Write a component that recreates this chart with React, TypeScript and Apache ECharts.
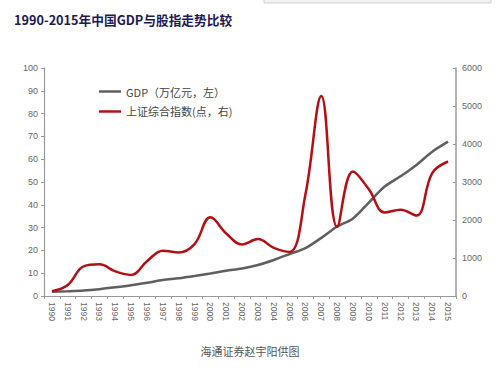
import React, { useEffect, useRef } from "react";
import * as echarts from "echarts";

const years = ["1990","1991","1992","1993","1994","1995","1996","1997","1998","1999","2000","2001","2002","2003","2004","2005","2006","2007","2008","2009","2010","2011","2012","2013","2014","2015"];
const gdp = [1.9, 2.1, 2.4, 3.0, 3.8, 4.7, 5.8, 7.0, 7.8, 8.8, 9.9, 11.1, 12.1, 13.6, 15.8, 18.4, 21.0, 25.5, 30.5, 34.0, 41.0, 48.0, 52.5, 57.5, 63.3, 67.7];
const shIndex = [128, 292, 780, 833, 648, 555, 917, 1194, 1147, 1367, 2073, 1646, 1357, 1497, 1267, 1161, 2675, 5262, 1821, 3277, 2808, 2199, 2269, 2116, 3235, 3539];
const leftTicks = { min: 0, max: 100, interval: 10 };
const rightTicks = { min: 0, max: 6000, interval: 1000 };
const title = "1990-2015年中国GDP与股指走势比较";
const seriesNames = ["GDP（万亿元，左）", "上证综合指数(点，右)"];
const caption = "海通证券赵宇阳供图";

export default function App() {
  const ref = useRef<HTMLDivElement>(null);
  useEffect(() => {
    if (!ref.current) return;
    const chart = echarts.init(ref.current, null, { renderer: "svg" });
    const font = "'Liberation Sans', Arial, 'Noto Sans CJK SC', sans-serif";
    const axisLabel = { color: "#666", fontSize: 9, fontFamily: font };
    chart.setOption({
      animation: false,
      backgroundColor: "#fff",
      title: {
        text: title,
        left: 9,
        top: 8,
        textStyle: { color: "#1f1a55", fontSize: 12.7, fontWeight: "bold", fontFamily: "'Noto Sans CJK SC', sans-serif" },
      },
      graphic: [
        { type: "rect", shape: { x: 264, y: -2, width: 227, height: 5 }, style: { fill: "#f2f2f2", stroke: "#d0d0d0", lineWidth: 1 } },
        {
          type: "text",
          left: "center",
          top: 345,
          style: { text: caption, fill: "#555", fontSize: 11, fontFamily: "'Noto Sans CJK SC', sans-serif" },
        },
      ],
      legend: {
        orient: "vertical",
        left: 94,
        top: 81,
        itemGap: 9,
        itemWidth: 22,
        itemHeight: 12,
        textStyle: { color: "#444", fontSize: 11, fontFamily: "'Noto Sans CJK SC', sans-serif" },
        data: [
          { name: seriesNames[0], icon: "path://M0,5 L22,5 L22,7.5 L0,7.5 Z" },
          { name: seriesNames[1], icon: "path://M0,5 L22,5 L22,7.5 L0,7.5 Z" },
        ],
      },
      grid: { left: 44, right: 44, top: 68, bottom: 76, containLabel: false },
      xAxis: {
        type: "category",
        data: years,
        boundaryGap: true,
        axisLine: { lineStyle: { color: "#999", width: 1 } },
        axisTick: { show: true, length: 3, lineStyle: { color: "#999" } },
        axisLabel: { ...axisLabel, fontSize: 8.5, rotate: -90, margin: 6, interval: 0, hideOverlap: false },
      },
      yAxis: [
        {
          type: "value",
          ...leftTicks,
          position: "left",
          splitLine: { show: false },
          axisLine: { show: true, lineStyle: { color: "#999", width: 1.2 } },
          axisTick: { show: true, length: 3, lineStyle: { color: "#999" } },
          axisLabel: { ...axisLabel, margin: 6 },
        },
        {
          type: "value",
          ...rightTicks,
          position: "right",
          splitLine: { show: false },
          axisLine: { show: true, lineStyle: { color: "#999", width: 1.5 } },
          axisTick: { show: true, inside: true, length: 3, lineStyle: { color: "#999" } },
          axisLabel: { ...axisLabel, margin: 6, formatter: (v: number) => String(v) },
        },
      ],
      series: [
        {
          name: seriesNames[0],
          type: "line",
          yAxisIndex: 0,
          data: gdp,
          smooth: 0.3,
          symbol: "none",
          lineStyle: { color: "#5f5f5f", width: 2.5 },
          itemStyle: { color: "#5f5f5f" },
          z: 2,
        },
        {
          name: seriesNames[1],
          type: "line",
          yAxisIndex: 1,
          data: shIndex,
          smooth: 0.4,
          symbol: "none",
          lineStyle: { color: "#b40f14", width: 2.5 },
          itemStyle: { color: "#b40f14" },
          z: 3,
        },
      ],
    });
    return () => chart.dispose();
  }, []);
  return <div ref={ref} style={{ position: "fixed", left: 0, top: 0, width: 500, height: 372 }} />;
}
